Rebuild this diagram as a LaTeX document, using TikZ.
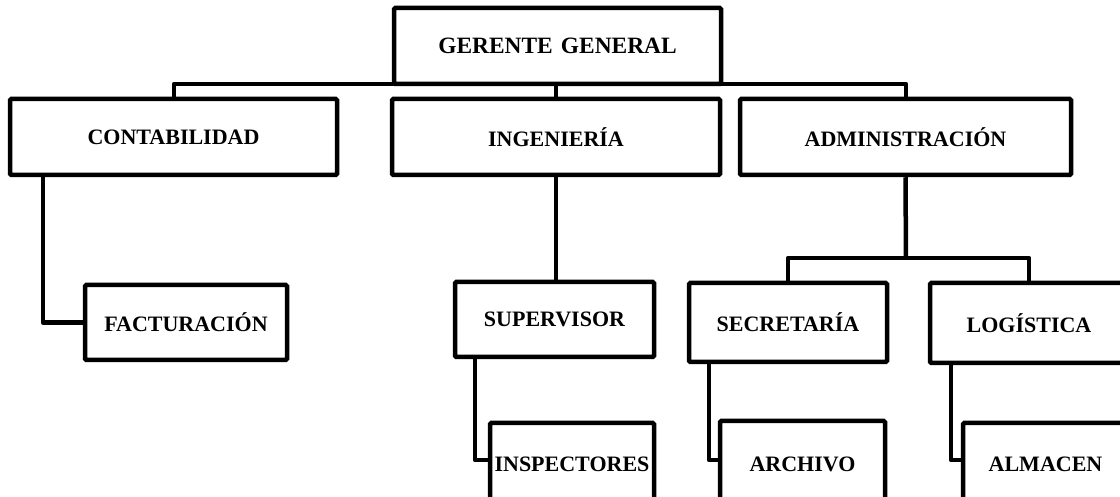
\documentclass[tikz,border=0pt]{standalone}
\usepackage{fontspec}
\setmainfont{Liberation Serif}
\begin{document}
\begin{tikzpicture}[x=0.5pt,y=-0.5pt,
  unit/.style={draw, line width=2.25pt, rounded corners=0.6pt, fill=white,
    inner sep=0pt, font=\fontsize{11}{13}\selectfont\bfseries},
  link/.style={line width=2.25pt, line join=round}]
\useasboundingbox (0,0) rectangle (1120,497);
\fill[white] (0,0) rectangle (1120,497);
\clip (0,0) rectangle (1120,497);

% top level
\node[unit, minimum width=163.5pt, minimum height=38pt,
  font=\fontsize{11.7}{14}\selectfont\bfseries] (gg) at (557.5,46) {GERENTE\hspace{0.35em}GENERAL};

% departments
\node[unit, minimum width=163.5pt, minimum height=38pt] (cont) at (173.5,137) {CONTABILIDAD};
\node[unit, minimum width=164pt, minimum height=38pt] (ing) at (556,137) {INGENIERÍA};
\node[unit, minimum width=165.5pt, minimum height=38pt] (adm) at (905.5,137) {ADMINISTRACIÓN};

% second level
\node[unit, minimum width=101pt, minimum height=37.5pt] (fact) at (186,322.5) {FACTURACIÓN};
\node[unit, minimum width=99.5pt, minimum height=37.5pt] (sup) at (554.5,319.5) {SUPERVISOR};
\node[unit, minimum width=99pt, minimum height=39.5pt] (sec) at (788,322.5) {SECRETARÍA};
\node[unit, minimum width=99pt, minimum height=40pt] (log) at (1029,323) {LOGÍSTICA};

% third level
\node[unit, minimum width=82pt, minimum height=41pt] (insp) at (572,464) {INSPECTORES};
\node[unit, minimum width=82.5pt, minimum height=43pt] (arch) at (802.5,464) {ARCHIVO};
\node[unit, minimum width=82.5pt, minimum height=41pt] (alm) at (1045.5,464) {ALMACEN};

% bus under the general manager
\coordinate (busL) at (174,84);
\coordinate (busR) at (906,84);
\draw[link] (cont.north -| busL) -- (busL) -- (busR) -- (adm.north -| busR);
\draw[link] (ing.north) -- (ing.north |- busL);

% engineering branch
\draw[link] (ing.south) -- (ing.south |- sup.north);
\coordinate (supK) at (475,460);
\draw[link] (sup.south -| supK) -- (supK) -- (insp.west |- supK);

% accounting branch
\coordinate (contK) at (43,322.5);
\draw[link] (cont.south -| contK) -- (contK) -- (fact.west);

% administration branch
\coordinate (admK) at (906,258);
\draw[link] (adm.south) -- (admK);
\draw[link] (sec.north) |- (admK) -| (log.north);
\coordinate (secK) at (709,460);
\draw[link] (sec.south -| secK) -- (secK) -- (arch.west |- secK);
\coordinate (logK) at (951,460);
\draw[link] (log.south -| logK) -- (logK) -- (alm.west |- logK);
\end{tikzpicture}
\end{document}
